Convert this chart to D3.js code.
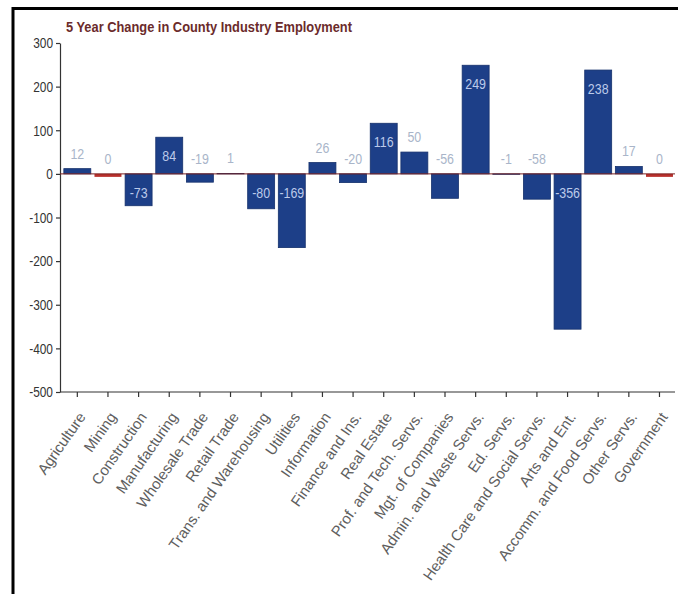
<!DOCTYPE html>
<html>
<head>
<meta charset="utf-8">
<script src="https://cdn.jsdelivr.net/npm/d3@7"></script>
<style>
  html, body { margin: 0; padding: 0; background: #fff; }
  svg { display: block; }
</style>
</head>
<body>
<svg id="chart" width="678" height="595"></svg>
<script>
// Industry categories and their 5-year employment change
const categories = [
  "Agriculture", "Mining", "Construction", "Manufacturing", "Wholesale Trade",
  "Retail Trade", "Trans. and Warehousing", "Utilities", "Information",
  "Finance and Ins.", "Real Estate", "Prof. and Tech. Servs.", "Mgt. of Companies",
  "Admin. and Waste Servs.", "Ed. Servs.", "Health Care and Social Servs.",
  "Arts and Ent.", "Accomm. and Food Servs.", "Other Servs.", "Government"
];
const changes = [12, 0, -73, 84, -19, 1, -80, -169, 26, -20, 116, 50, -56, 249, -1, -58, -356, 238, 17, 0];
const yTicks = [300, 200, 100, 0, -100, -200, -300, -400, -500];
const title = "5 Year Change in County Industry Employment";

const data = categories.map((c, i) => ({ name: c, value: changes[i] }));

const svg = d3.select("#chart");

// outer frame: top and left rules
svg.append("line").attr("x1", 12).attr("x2", 678).attr("y1", 8.5).attr("y2", 8.5)
  .attr("stroke", "#000").attr("stroke-width", 3);
svg.append("line").attr("x1", 13).attr("x2", 13).attr("y1", 7).attr("y2", 594)
  .attr("stroke", "#000").attr("stroke-width", 3);

const axisX = 60, plotRight = 675;
const y = d3.scaleLinear().domain([-500, 300]).range([392, 43]);
const x = d3.scaleBand().domain(categories).range([62, 674.8])
  .paddingInner(0.12).paddingOuter(0.06);

const narrow = "'Liberation Sans', Arial, sans-serif";

// title (condensed bold)
svg.append("text")
  .attr("x", 66).attr("y", 32)
  .attr("font-family", narrow)
  .attr("font-weight", "bold")
  .attr("font-size", 15.5)
  .attr("fill", "#6b2b2b")
  .attr("textLength", 286)
  .attr("lengthAdjust", "spacingAndGlyphs")
  .text(title);

// y axis
const yAxis = d3.axisLeft(y).tickValues(yTicks).tickSize(4).tickSizeOuter(0).tickFormat(d => String(d));
const gy = svg.append("g").attr("transform", `translate(${axisX},0)`).call(yAxis);
gy.select(".domain").attr("stroke", "#333").attr("stroke-width", 1.2);
gy.selectAll(".tick line").attr("stroke", "#333").attr("stroke-width", 1.2);
gy.selectAll(".tick text")
  .attr("font-family", narrow)
  .attr("font-size", 14).attr("fill", "#333")
  .attr("x", 0).attr("dy", "0.34em")
  .attr("transform", "translate(-7,0) scale(0.85,1)");

// bars
const barFill = "#1d3f88";
const y0 = y(0);
svg.append("g").selectAll("rect").data(data.filter(d => d.value !== 0)).join("rect")
  .attr("x", d => x(d.name))
  .attr("width", x.bandwidth())
  .attr("y", d => y(Math.max(0, d.value)))
  .attr("height", d => Math.abs(y(d.value) - y0))
  .attr("fill", barFill)
  .attr("stroke", "#16316c").attr("stroke-width", 0.8);

// zero-change industries shown as a red sliver
svg.append("g").selectAll("rect").data(data.filter(d => d.value === 0)).join("rect")
  .attr("x", d => x(d.name))
  .attr("width", x.bandwidth())
  .attr("y", y0)
  .attr("height", 3)
  .attr("fill", "#b8302c");

// zero line
svg.append("line").attr("x1", axisX).attr("x2", plotRight).attr("y1", y0).attr("y2", y0)
  .attr("stroke", "#7a2222").attr("stroke-width", 1);

// value labels: inside large bars, above small ones
const inside = d => Math.abs(d.value) >= 70;
svg.append("g").selectAll("text").data(data).join("text")
  .attr("transform", d => {
    const cx = x(d.name) + x.bandwidth() / 2;
    const top = y(Math.max(0, d.value));
    const cy = inside(d) ? top + 24 : top - 10;
    return `translate(${cx},${cy}) scale(0.8,1)`;
  })
  .attr("text-anchor", "middle")
  .attr("font-family", narrow)
  .attr("font-size", 15.5)
  .attr("fill", d => inside(d) ? "#bccaea" : "#a9b5c9")
  .text(d => d.value);

// x axis
const xAxis = d3.axisBottom(x).tickSize(5).tickSizeOuter(0);
const gx = svg.append("g").attr("transform", `translate(0,${y(-500)})`).call(xAxis);
gx.select(".domain").remove();
gx.append("line").attr("x1", axisX).attr("x2", plotRight).attr("y1", 0).attr("y2", 0)
  .attr("stroke", "#333").attr("stroke-width", 1.2);
gx.selectAll(".tick line").attr("stroke", "#333").attr("stroke-width", 1.2);
gx.selectAll(".tick text")
  .attr("font-family", "'Liberation Sans', Arial, sans-serif")
  .attr("font-size", 15)
  .attr("fill", "#5e5e5e")
  .attr("text-anchor", "end")
  .attr("y", 0).attr("dy", 0)
  .attr("transform", "translate(9,25) rotate(-55)");
</script>
</body>
</html>
